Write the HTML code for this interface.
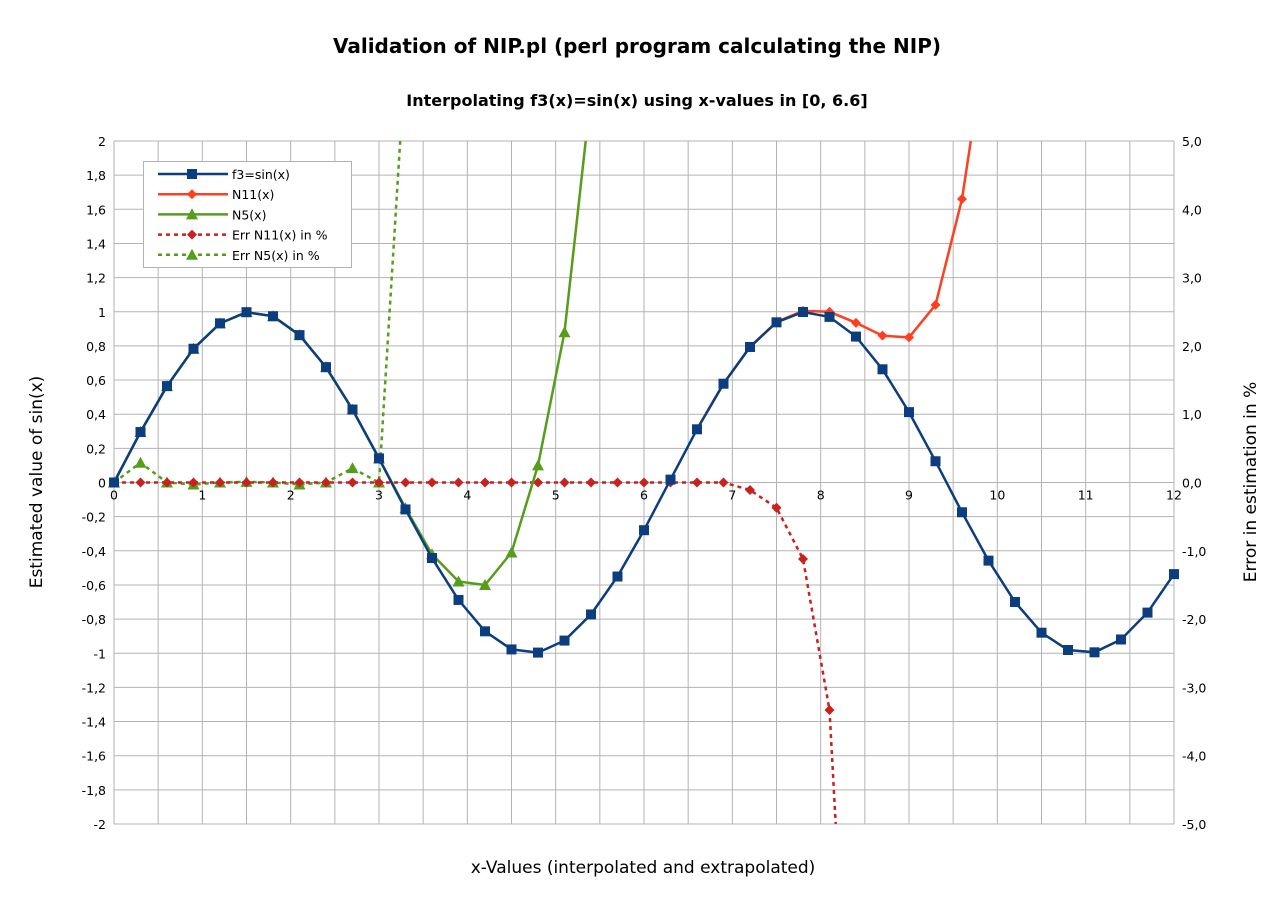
<!DOCTYPE html>
<html><head><meta charset="utf-8"><style>
body{margin:0;background:#fff;}
svg{display:block;font-family:"DejaVu Sans","Liberation Sans",sans-serif;}
</style></head><body>
<svg id="s" width="1275" height="901" xmlns="http://www.w3.org/2000/svg">
<rect width="1275" height="901" fill="#fff"/>
<text x="637" y="53" text-anchor="middle" font-size="20" font-weight="bold">Validation of NIP.pl (perl program calculating the NIP)</text>
<text x="637" y="106" text-anchor="middle" font-size="16" font-weight="bold">Interpolating f3(x)=sin(x) using x-values in [0, 6.6]</text>
<text x="643" y="873" text-anchor="middle" font-size="17">x-Values (interpolated and extrapolated)</text>
<text transform="translate(42,482) rotate(-90)" text-anchor="middle" font-size="17">Estimated value of sin(x)</text>
<text transform="translate(1256,482) rotate(-90)" text-anchor="middle" font-size="17">Error in estimation in %</text>
<g id="g"></g>
</svg>
<script>
var X0=114,X1=1174,Y0=141,Y1=824;
function px(x){return X0+(X1-X0)*x/12;}
function py(y){return Y0+(Y1-Y0)*(2-y)/4;}
function pr(e){return Y0+(Y1-Y0)*(5-e)/10;}
var h='';
h+='<defs><clipPath id="c"><rect x="'+X0+'" y="'+Y0+'" width="'+(X1-X0)+'" height="'+(Y1-Y0)+'"/></clipPath></defs>';
for(var i=0;i<=24;i++){var x=px(i*0.5);h+='<line x1="'+x+'" y1="'+Y0+'" x2="'+x+'" y2="'+Y1+'" stroke="#b3b3b3"/>';}
for(var i=0;i<=20;i++){var v=2-i*0.2,y=py(v);h+='<line x1="'+X0+'" y1="'+y+'" x2="'+X1+'" y2="'+y+'" stroke="#b3b3b3"/>';
 var t=(Math.abs(v)<1e-9?'0':(Math.round(v*10)/10).toString().replace('.',','));
 h+='<text x="'+(X0-8)+'" y="'+(y+5)+'" text-anchor="end" font-size="12.5">'+t+'</text>';}
for(var i=0;i<=10;i++){var v=5-i,y=pr(v);h+='<text x="'+(X1+8)+'" y="'+(y+5)+'" font-size="12.5">'+(v).toFixed(1).replace('.',',')+'</text>';}
for(var i=0;i<=12;i++){h+='<text x="'+px(i)+'" y="'+(py(0)+17)+'" text-anchor="middle" font-size="12.5">'+i+'</text>';}
h+='<line x1="'+X0+'" y1="'+py(0)+'" x2="'+X1+'" y2="'+py(0)+'" stroke="#b3b3b3"/>';
var sq=function(x,y,c){return '<rect x="'+(x-5)+'" y="'+(y-5)+'" width="10" height="10" fill="'+c+'"/>';};
var di=function(x,y,c){return '<path d="M'+x+' '+(y-5)+'L'+(x+5)+' '+y+'L'+x+' '+(y+5)+'L'+(x-5)+' '+y+'Z" fill="'+c+'"/>';};
var tr=function(x,y,c){return '<path d="M'+x+' '+(y-6)+'L'+(x+6)+' '+(y+5)+'L'+(x-6)+' '+(y+5)+'Z" fill="'+c+'"/>';};
function series(pts,c,dash,mk){var d='';pts.forEach(function(p,i){d+=(i?'L':'M')+p[0].toFixed(1)+' '+p[1].toFixed(1);});
 var s='<path d="'+d+'" fill="none" stroke="'+c+'" stroke-width="2.5"'+(dash?' stroke-dasharray="4,4"':'')+' clip-path="url(#c)"/>';
 pts.forEach(function(p){if(p[2]!==false&&p[1]>=Y0-1&&p[1]<=Y1+1)s+=mk(p[0],p[1],c);});return s;}
var e5=[[0,0],[0.3,0.29],[0.6,0],[0.9,-0.03],[1.2,0],[1.5,0.01],[1.8,0],[2.1,-0.03],[2.4,0],[2.7,0.21],[3.0,0]];
var p5=e5.map(function(a){return [px(a[0]),pr(a[1])];});p5.push([px(3.24),pr(5),false]);
h+=series(p5,'#579d1c',true,tr);
var e11=[];for(var i=0;i<=23;i++)e11.push([i*0.3,0]);e11.push([7.2,-0.11],[7.5,-0.37],[7.8,-1.12],[8.1,-3.33]);
var q11=e11.map(function(a){return [px(a[0]),pr(a[1])];});q11.push([px(8.17),pr(-5),false]);
h+=series(q11,'#c9211e',true,di);
var n5=[];for(var i=0;i<=10;i++)n5.push([i*0.3,Math.sin(i*0.3)]);
n5.push([3.3,-0.15],[3.6,-0.42],[3.9,-0.58],[4.2,-0.6],[4.5,-0.41],[4.8,0.1],[5.1,0.88]);
var q5=n5.map(function(a){return [px(a[0]),py(a[1])];});q5.push([px(5.34),py(2),false]);
h+=series(q5,'#579d1c',false,tr);
var n11=[[6.6,Math.sin(6.6)],[6.9,Math.sin(6.9)],[7.2,Math.sin(7.2)],[7.5,0.94],[7.8,1.005],[8.1,1.0],[8.4,0.935],[8.7,0.86],[9.0,0.85],[9.3,1.04],[9.6,1.66]];
var q11b=n11.map(function(a){return [px(a[0]),py(a[1])];});q11b.push([px(9.7),py(2),false]);
h+=series(q11b,'#ff3f1f',false,di);
var f=[];for(var i=0;i<=40;i++)f.push([px(i*0.3),py(Math.sin(i*0.3))]);
h+=series(f,'#0c3d7e',false,sq);
h+='<rect x="143.5" y="161.5" width="208" height="106" fill="#fff" stroke="#b3b3b3"/>';
var L=[['f3=sin(x)','#0c3d7e',false,sq],['N11(x)','#ff3f1f',false,di],['N5(x)','#579d1c',false,tr],['Err N11(x) in %','#c9211e',true,di],['Err N5(x) in %','#579d1c',true,tr]];
L.forEach(function(l,i){var y=174+i*20.2;
 h+='<line x1="158" y1="'+y+'" x2="228" y2="'+y+'" stroke="'+l[1]+'" stroke-width="2.5"'+(l[2]?' stroke-dasharray="4,4"':'')+'/>';
 h+=l[3](192,y,l[1]);h+='<text x="232" y="'+(y+5)+'" font-size="12.5">'+l[0]+'</text>';});
document.getElementById('g').innerHTML=h;
</script>
</body></html>
